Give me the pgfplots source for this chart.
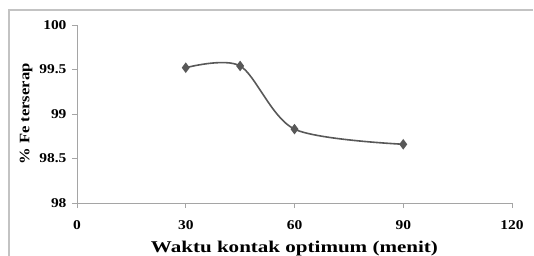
\documentclass[border=0pt]{standalone}
\usepackage{fontspec}
\setmainfont{Liberation Serif}[FakeStretch=1.15]
\newfontfamily\labelfont{Liberation Serif}[FakeStretch=1.28]
\usepackage{pgfplots}
\pgfplotsset{compat=1.18}
\definecolor{linegray}{RGB}{88,88,88}
\definecolor{axisgray}{RGB}{165,165,165}
\definecolor{framegray}{RGB}{195,195,195}
\begin{document}
\begin{tikzpicture}
\path[use as bounding box] (0,0) rectangle (534bp,256bp);
\draw[framegray, line width=1.2bp] (9bp,0) -- (9bp,246bp) -- (533bp,246bp);
\begin{axis}[
  at={(77bp,53bp)}, anchor=south west,
  scale only axis, width=435bp, height=178bp,
  xmin=0, xmax=120, ymin=98, ymax=100,
  xtick={0,30,60,90,120}, ytick={98,98.5,99,99.5,100},
  axis x line*=bottom, axis y line*=left,
  axis line style={axisgray, line width=0.9bp, -},
  tick style={axisgray, line width=0.9bp},
  tick align=outside, major tick length=5bp,
  /pgf/number format/assume math mode=true,
  yticklabel style={/pgf/number format/fixed, /pgf/number format/precision=1},
  tick label style={font=\fontsize{13.5}{13.5}\selectfont\bfseries, black},
  xticklabel style={yshift=-9bp},
  yticklabel style={xshift=-2bp},
  xlabel={\labelfont\fontsize{16.5}{16.5}\selectfont\bfseries Waktu kontak optimum (menit)},
  ylabel={\fontsize{14.5}{14.5}\selectfont\bfseries\% Fe terserap},
  xlabel style={at={(rel axis cs:0.5,0)}, anchor=base, yshift=-49.5bp},
  ylabel style={yshift=0bp},
  clip=false,
]
\addplot[linegray, line width=1.6bp, smooth, mark=diamond*, mark size=4bp, mark options={fill=linegray, solid}]
  coordinates {(30,99.52) (45,99.54) (60,98.83) (90,98.66)};
\end{axis}
\end{tikzpicture}
\end{document}
